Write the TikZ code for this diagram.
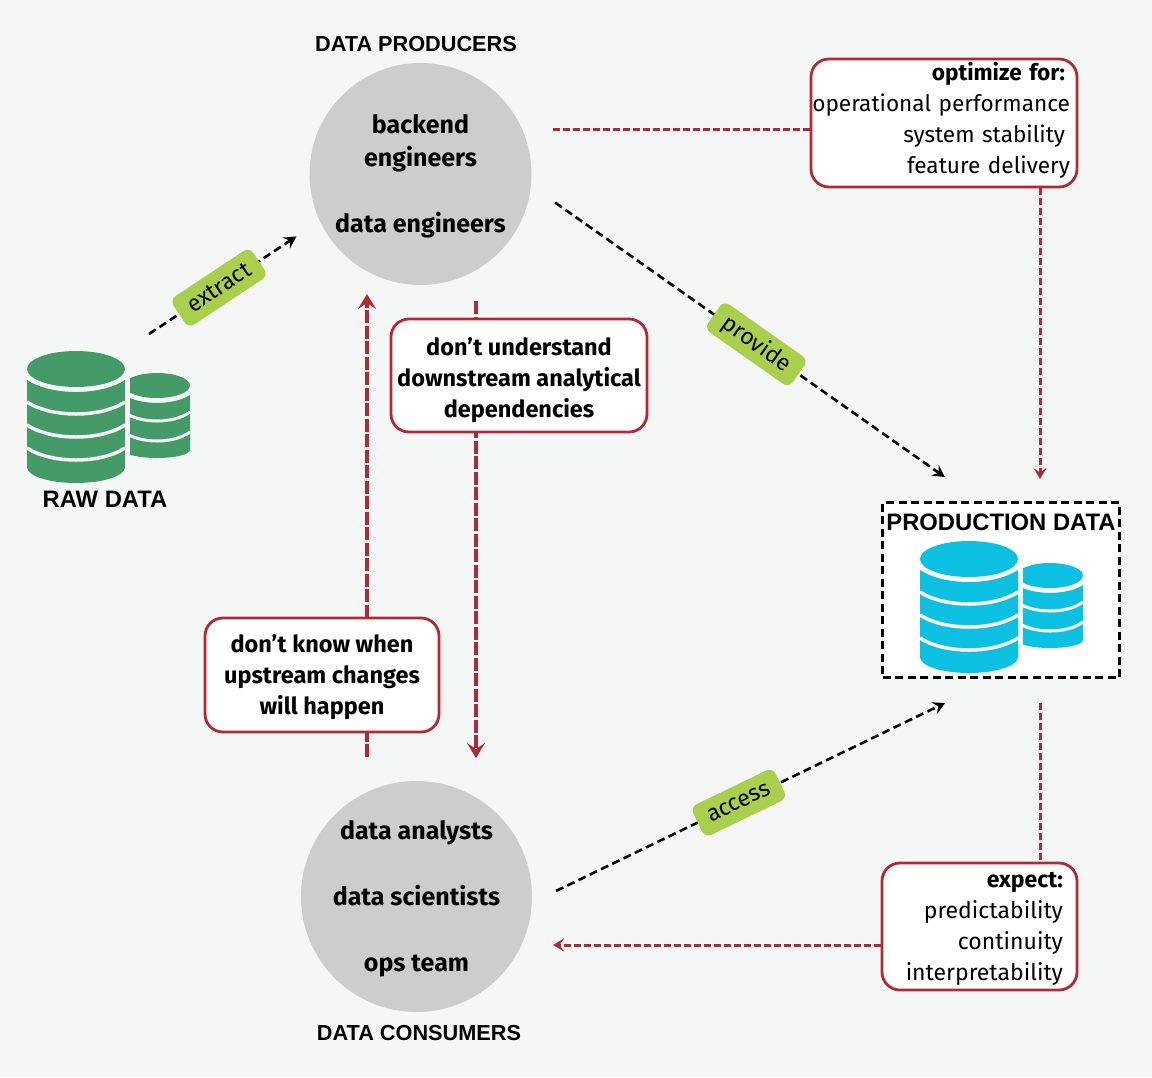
\documentclass[tikz,border=0pt]{standalone}
\usepackage{fontspec}
\setmainfont{Fira Sans}
\newfontfamily\headfont{Liberation Sans}
\usetikzlibrary{arrows.meta,positioning}

\definecolor{bgcol}{HTML}{F5F7F6}
\definecolor{circcol}{HTML}{CDCDCD}
\definecolor{redcol}{HTML}{AE2B36}
\definecolor{pillcol}{HTML}{A9CF4D}
\definecolor{rawcol}{HTML}{459B67}
\definecolor{prodcol}{HTML}{0CC0E1}

\tikzstyle{blackline} = [draw=black, line width=2.6pt, dash pattern=on 8pt off 4.5pt, -{Stealth[length=12pt,width=13pt,inset=4.5pt]}]
\tikzstyle{redline} = [draw=redcol, line width=3pt, dash pattern=on 7pt off 3pt]
\tikzstyle{redarrow} = [redline, -{Stealth[length=11pt,width=13pt,inset=4.5pt]}]
\tikzstyle{thickred} = [draw=redcol, line width=4.2pt, dash pattern=on 13pt off 2.5pt, -{Stealth[length=15pt,width=18pt,inset=6pt]}]
\tikzstyle{bubble} = [circle, fill=circcol, inner sep=-10pt, align=center, font=\fontsize{25}{33}\selectfont\bfseries]
\tikzstyle{notebox} = [draw=redcol, line width=2.8pt, fill=white, rounded corners=18pt, inner xsep=0pt, inner ysep=0pt, font=\fontsize{23}{31}\selectfont]
\tikzstyle{boldbox} = [notebox, align=center, font=\fontsize{23.5}{31}\selectfont\bfseries]
\tikzstyle{pill} = [fill=pillcol, rounded corners=7pt, text=black, minimum height=34pt, inner xsep=12pt, inner ysep=0pt, font=\fontsize{23}{23}\selectfont]
\tikzstyle{headlabel} = [font=\headfont\fontsize{21.7}{24}\selectfont\bfseries]
\tikzstyle{biglabel} = [font=\headfont\fontsize{23.8}{24}\selectfont\bfseries]

\tikzset{pics/dbstack/.style 2 args={code={
    % small stack
    \begin{scope}
        \clip (130,360) rectangle (195,465);
        \fill[#1] (124,395) .. controls (140,405.5) and (174,405.5) .. (190,395) -- (190,450) -- (124,450) -- cycle;
        \fill[#1] (157,450) ellipse [x radius=33, y radius=8];
        \fill[#1] (157,385.5) ellipse [x radius=33, y radius=12.5];
        \foreach \y in {412,432}
        {
            \draw[#2, line width=3pt] (124,\y) .. controls (140,\y+12) and (174,\y+12) .. (190,\y);
        };
    \end{scope}
    % big stack
    \fill[#2] (125,365) rectangle (130,470);
    \fill[#1] (27,380) .. controls (51.5,396) and (100.5,396) .. (125,380) -- (125,467) -- (27,467) -- cycle;
    \fill[#1] (76,467) ellipse [x radius=49, y radius=16];
    \fill[#1] (76,369) ellipse [x radius=49, y radius=18];
    \foreach \y in {402,425,448}
    {
        \draw[#2, line width=3.5pt] (27,\y) .. controls (51.5,\y+16) and (100.5,\y+16) .. (125,\y);
    };
}}}

\begin{document}
\begin{tikzpicture}[x=1pt,y=-1pt]
    \fill[bgcol] (0,0) rectangle (1152,1077);

    \node[bubble, minimum size=222pt] (producers) at (420.5,174) {\rule{0pt}{24pt}backend\\engineers\\[33pt]data engineers};
    \node[bubble, minimum size=231pt] (consumers) at (416.5,896.5) {\rule{0pt}{24pt}data analysts\\[33pt]data scientists\\[33pt]ops team};

    \node[headlabel] (producerslabel) at (416,44) {DATA PRODUCERS};
    \node[headlabel] (consumerslabel) at (419,1033) {DATA CONSUMERS};
    \node[biglabel] (rawlabel) at (105,499) {RAW DATA};

    \pic at (0,0) {dbstack={rawcol}{bgcol}};

    \node[draw=black, line width=3pt, dash pattern=on 8pt off 4.5pt, fill=white, minimum width=237pt, minimum height=175pt, inner sep=0pt] (production) at (1001,590) {};
    \node[biglabel] (productionlabel) at (1001,522) {PRODUCTION DATA};
    \pic at (893,190) {dbstack={prodcol}{white}};

    % thick red arrows run behind their boxes
    \coordinate (upstart) at (367,757);
    \coordinate (upend) at (367,294);
    \coordinate (downstart) at (476,301);
    \coordinate (downend) at (476,758);
    \draw[thickred] (upstart) -- (upend);
    \draw[thickred] (downstart) -- (downend);

    \node[boldbox, minimum width=256pt, minimum height=113pt] (understand) at (519,375.5) {\rule{0pt}{28pt}don’t understand\\downstream analytical\\dependencies};
    \node[boldbox, minimum width=234pt, minimum height=114pt] (upstream) at (322,675) {\rule{0pt}{22pt}don’t know when\\upstream changes\\will happen};
    \node[notebox, minimum height=128pt, text width=252pt, align=right, inner xsep=7pt, font=\fontsize{22.6}{31}\selectfont] (optimize) at (944,123) {\textbf{optimize for:}\kern5pt\\\hspace*{-10pt}operational performance\\system stability\kern5pt\\feature delivery\rule[-11pt]{0pt}{1pt}};
    \node[notebox, minimum height=127pt, text width=167pt, align=right, inner xsep=14pt] (expect) at (979.5,926.5) {\rule{0pt}{20pt}\textbf{expect:}\\predictability\\continuity\\interpretability};

    \draw[blackline, shorten <=29.5pt, shorten >=41.6pt] (producers.-6.2) -- (production.104)
        node[pill, sloped, pos=0.503] (providepill) {provide};
    \coordinate (rawout) at (149,334);
    \draw[blackline, shorten >=28pt] (rawout) -- (producers.205.5)
        node[pill, sloped, pos=0.41] (extractpill) {extract};
    \coordinate (accessstart) at (556,891);
    \coordinate (accessend) at (945,703);
    \draw[blackline] (accessstart) -- (accessend)
        node[pill, sloped, pos=0.47] (accesspill) {access};

    \coordinate (optout) at (553,129);
    \draw[redline] (optout) -- (optout -| optimize.west);
    \coordinate (prodin) at (1040,479);
    \draw[redarrow] (prodin |- optimize.south) -- (prodin);
    \coordinate (prodout) at (1040,703);
    \draw[redline] (prodout) -- (prodout |- expect.north);
    \coordinate (conin) at (553,945);
    \draw[redarrow] (conin -| expect.west) -- (conin);
\end{tikzpicture}
\end{document}
